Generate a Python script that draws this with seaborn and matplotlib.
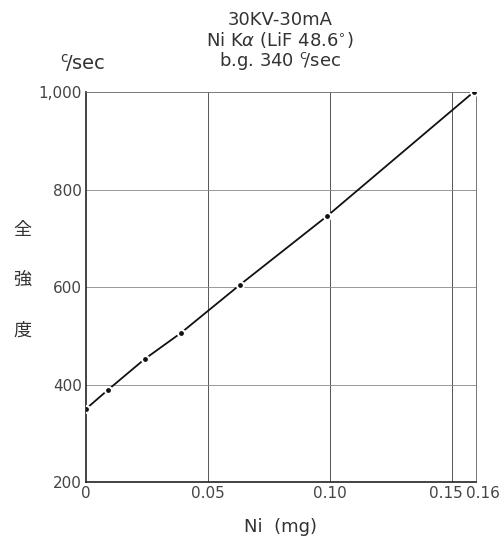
import matplotlib
matplotlib.use("Agg")
import matplotlib.pyplot as plt
import matplotlib.transforms as mtrans
import seaborn as sns
import pandas as pd

ni_mg = [0.0, 0.009, 0.024, 0.039, 0.063, 0.099, 0.159]
intensity = [350, 389, 452, 506, 604, 746, 1000]
xticks = [0, 0.05, 0.10, 0.15, 0.16]
xtick_labels = ["0", "0.05", "0.10", "0.15", "0.16"]
yticks = [200, 400, 600, 800, 1000]
ytick_labels = ["200", "400", "600", "800", "1,000"]

sns.set_theme(style="white")
plt.rcParams['font.family'] = ['DejaVu Sans', 'Noto Sans CJK JP']

df = pd.DataFrame({"x": ni_mg, "y": intensity})

fig = plt.figure(figsize=(5.0, 5.45), dpi=100)
ax = fig.add_axes([0.172, 0.1156, 0.78, 0.7154])

for gx in [0.05, 0.10, 0.15]:
    ax.axvline(gx, color="#555555", lw=0.7, zorder=1)
for gy in [400, 600, 800]:
    ax.axhline(gy, color="#888888", lw=0.6, zorder=1)

sns.lineplot(data=df, x="x", y="y", ax=ax, color="#111111", lw=1.3,
             marker="o", markersize=5, markeredgecolor="white",
             markeredgewidth=1.5, markerfacecolor="#111111", zorder=3)

ax.set_xlim(0, 0.16)
ax.set_ylim(200, 1000)
ax.set_xticks(xticks)
ax.set_xticklabels(xtick_labels)
ax.set_yticks(yticks)
ax.set_yticklabels(ytick_labels)
ax.tick_params(axis="both", length=0, labelsize=11, labelcolor="#444444", pad=3)
for lbl in ax.get_xticklabels():
    t = lbl.get_text()
    if t == "0.15":
        lbl.set_transform(lbl.get_transform() + mtrans.ScaledTranslation(-6 / 100, 0, fig.dpi_scale_trans))
    if t == "0.16":
        lbl.set_transform(lbl.get_transform() + mtrans.ScaledTranslation(7 / 100, 0, fig.dpi_scale_trans))
ax.set_xlabel("Ni  (mg)", fontsize=13, color="#333333", labelpad=12)
ax.set_ylabel("")
for s in ["left", "bottom"]:
    ax.spines[s].set_color("#222222")
    ax.spines[s].set_linewidth(1.2)
for s in ["top", "right"]:
    ax.spines[s].set_color("#777777")
    ax.spines[s].set_linewidth(0.7)

title = "30KV-30mA\nNi K$\\alpha$ (LiF 48.6$^{\\circ}$)\nb.g. 340 $^{\\mathrm{c}}\\!/\\mathrm{sec}$"
fig.text(0.56, 0.98, title, ha="center", va="top", fontsize=13,
         color="#333333", linespacing=1.05)
fig.text(0.12, 0.885, "$^{\\mathrm{c}}\\!/\\mathrm{sec}$", ha="left", va="center",
         fontsize=14, color="#333333")
for i, ch in enumerate("全強度"):
    fig.text(0.044, 0.578 - i * 0.092, ch, ha="center", va="center", fontsize=13,
             color="#333333", family=["Noto Sans CJK JP", "DejaVu Sans"])

fig.savefig("out.png", dpi=100)
